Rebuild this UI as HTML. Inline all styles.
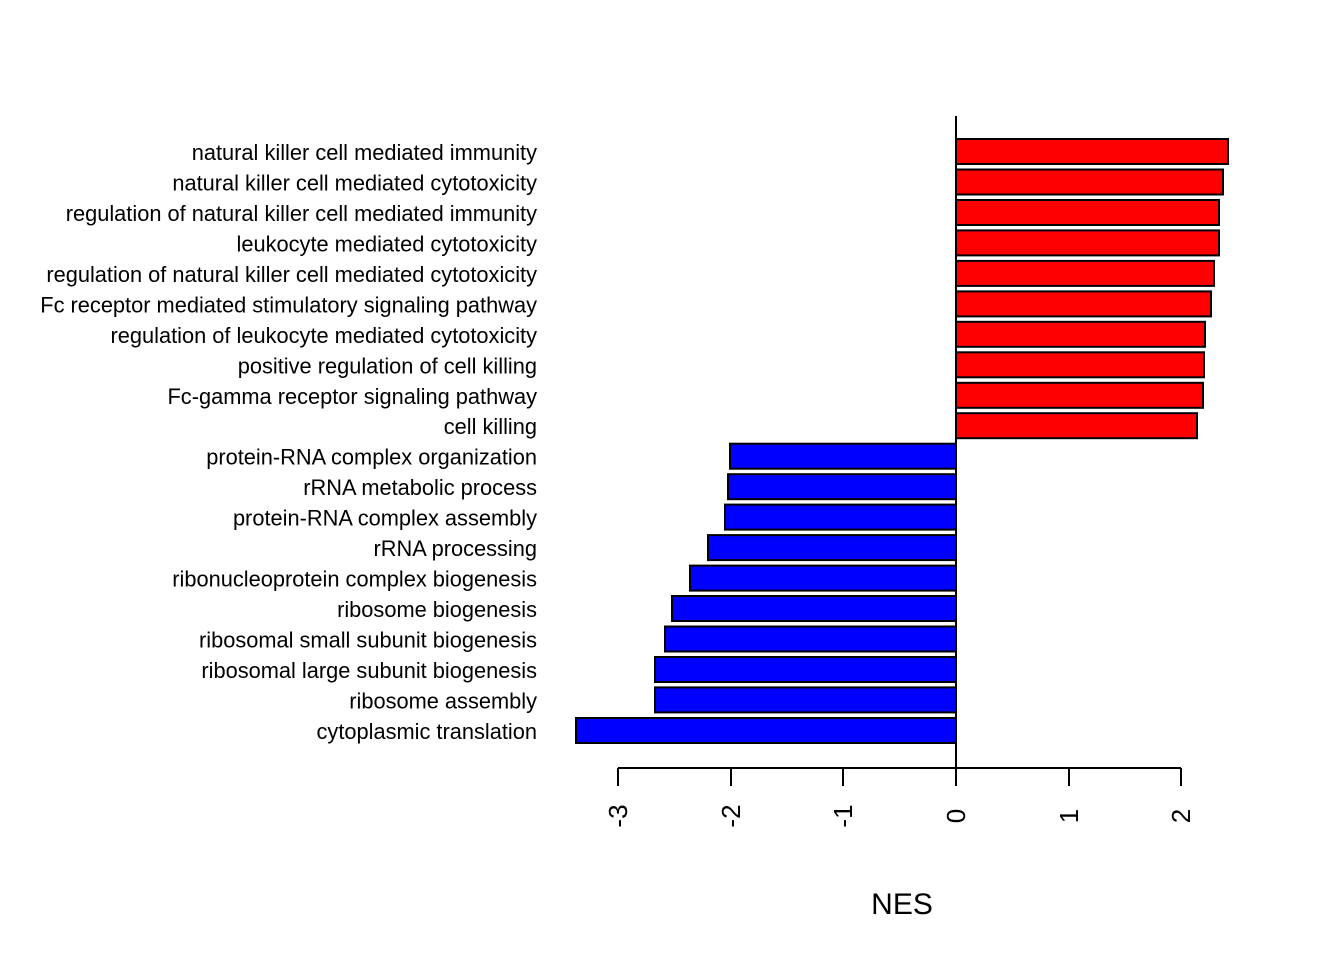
<!DOCTYPE html>
<html><head><meta charset="utf-8"><style>html,body{margin:0;padding:0;background:#fff}</style></head>
<body>
<svg width="1344" height="960" xmlns="http://www.w3.org/2000/svg" font-family="Liberation Sans, Arial, sans-serif">
<rect width="1344" height="960" fill="#fff"/>
<g stroke="#000" stroke-width="2">
<rect x="956" y="139" width="272" height="25" fill="#f00"/>
<rect x="956" y="169.5" width="267" height="25" fill="#f00"/>
<rect x="956" y="200" width="263" height="25" fill="#f00"/>
<rect x="956" y="230.4" width="263" height="25" fill="#f00"/>
<rect x="956" y="260.9" width="258" height="25" fill="#f00"/>
<rect x="956" y="291.4" width="255" height="25" fill="#f00"/>
<rect x="956" y="321.8" width="249" height="25" fill="#f00"/>
<rect x="956" y="352.3" width="248" height="25" fill="#f00"/>
<rect x="956" y="382.8" width="247" height="25" fill="#f00"/>
<rect x="956" y="413.2" width="241" height="25" fill="#f00"/>
<rect x="730" y="443.7" width="226" height="25" fill="#00f"/>
<rect x="728" y="474.2" width="228" height="25" fill="#00f"/>
<rect x="725" y="504.6" width="231" height="25" fill="#00f"/>
<rect x="708" y="535.1" width="248" height="25" fill="#00f"/>
<rect x="690" y="565.6" width="266" height="25" fill="#00f"/>
<rect x="672" y="596" width="284" height="25" fill="#00f"/>
<rect x="665" y="626.5" width="291" height="25" fill="#00f"/>
<rect x="655" y="657" width="301" height="25" fill="#00f"/>
<rect x="655" y="687.4" width="301" height="25" fill="#00f"/>
<rect x="576" y="718" width="380" height="25" fill="#00f"/>
<line x1="956" y1="116" x2="956" y2="768"/>
<line x1="618" y1="768" x2="1181" y2="768"/>
<line x1="618" y1="768" x2="618" y2="786"/>
<line x1="731" y1="768" x2="731" y2="786"/>
<line x1="843" y1="768" x2="843" y2="786"/>
<line x1="956" y1="768" x2="956" y2="786"/>
<line x1="1069" y1="768" x2="1069" y2="786"/>
<line x1="1181" y1="768" x2="1181" y2="786"/>
</g>
<g font-size="26" text-anchor="middle">
<text transform="translate(627,816) rotate(-90)">-3</text>
<text transform="translate(740,816) rotate(-90)">-2</text>
<text transform="translate(852,816) rotate(-90)">-1</text>
<text transform="translate(965,816) rotate(-90)">0</text>
<text transform="translate(1078,816) rotate(-90)">1</text>
<text transform="translate(1190,816) rotate(-90)">2</text>
</g>
<text x="902" y="914" font-size="30" text-anchor="middle">NES</text>
<g font-size="21.8" text-anchor="end">
<text x="537" y="160">natural killer cell mediated immunity</text>
<text x="537" y="190.5">natural killer cell mediated cytotoxicity</text>
<text x="537" y="221">regulation of natural killer cell mediated immunity</text>
<text x="537" y="251.4">leukocyte mediated cytotoxicity</text>
<text x="537" y="281.9">regulation of natural killer cell mediated cytotoxicity</text>
<text x="537" y="312.4">Fc receptor mediated stimulatory signaling pathway</text>
<text x="537" y="342.8">regulation of leukocyte mediated cytotoxicity</text>
<text x="537" y="373.3">positive regulation of cell killing</text>
<text x="537" y="403.8">Fc-gamma receptor signaling pathway</text>
<text x="537" y="434.2">cell killing</text>
<text x="537" y="464.7">protein-RNA complex organization</text>
<text x="537" y="495.2">rRNA metabolic process</text>
<text x="537" y="525.6">protein-RNA complex assembly</text>
<text x="537" y="556.1">rRNA processing</text>
<text x="537" y="586.6">ribonucleoprotein complex biogenesis</text>
<text x="537" y="617">ribosome biogenesis</text>
<text x="537" y="647.5">ribosomal small subunit biogenesis</text>
<text x="537" y="678">ribosomal large subunit biogenesis</text>
<text x="537" y="708.4">ribosome assembly</text>
<text x="537" y="739">cytoplasmic translation</text>
</g>
</svg>
</body></html>
